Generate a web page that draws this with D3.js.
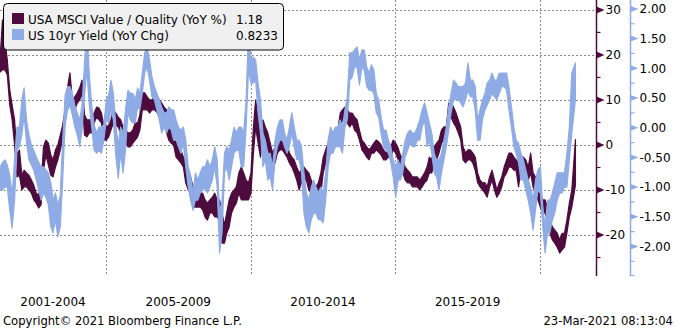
<!DOCTYPE html>
<html><head><meta charset="utf-8">
<script src="https://cdn.jsdelivr.net/npm/d3@7"></script>
<style>
body{margin:0;background:#fff}
svg{display:block}
text{font-family:"DejaVu Sans",Verdana,sans-serif;font-size:12px;fill:#000}
</style>
</head><body>
<svg id="chart" width="675" height="329"></svg>
<script>
// ---------------- data ----------------
const seriesNames = ["USA MSCI Value / Quality (YoY %)", "US 10yr Yield (YoY Chg)"];
const lastValues = ["1.18", "0.8233"];
const firstMonth = "2001-05-05";
const lastDay = "2021-03-23";

// USA MSCI Value / Quality (YoY %) – monthly high / low of the daily series
const purpleHi = [
18.9,27.8,23.3,18.9,12.2,8.9,5.6,-2.2,-1.1,-6.7,
-5.6,-6.2,-6.7,-7.8,-8.9,-10.7,-11.1,-8.9,-0.4,1.1,
0.4,-2.2,-3.3,-1.1,0,2.2,4.4,7.8,12.9,16,
10,10.7,11.6,12.7,14.4,6.7,5.6,5.6,5.6,7.1,
8.4,8.2,7.1,4.4,4,4.4,5.6,7.8,7.1,6.2,
5.6,4,3.3,2.7,2.7,3.3,4.9,4.9,6.7,11.6,
11.6,10.7,10,10,10.7,11.1,10,9.3,8.4,7.8,
4.9,4,3.3,1.1,-0.4,-1.1,-2.7,-4,-5.6,-7.1,
-9.3,-10.7,-10.7,-10.7,-10.7,-12.2,-12.9,-12.2,-11.6,-10.7,
-12.2,-12.2,-15.1,-17.8,-15.1,-12.2,-10.7,-10,-9.3,-6.2,
-4.9,-6.2,-7.8,-8.4,-6.2,4,10,6.2,2.7,5.6,
4,2.7,0.4,-1.8,-0.4,1.1,1.8,1.8,1.1,0.4,
-1.8,-2.7,-3.3,-4.9,-6.2,-5.6,-4.9,-5.6,-6.2,-7.8,
-9.3,-9.3,-8.4,-6.2,-2.7,-1.1,0.4,1.1,2.7,2.7,
3.3,7.1,7.8,8.4,7.8,7.1,7.1,6.2,5.6,3.3,
1.1,0.4,-0.4,-1.1,-0.4,0.4,1.1,0.7,0,-1.1,
-1.8,-1.1,-0.4,1.1,0.4,-0.7,-2.2,-3.3,-4.9,-5.6,
-6.2,-7.1,-7.1,-7.1,-7.8,-7.1,-6.2,-4.9,-2.7,-3.3,
-0.4,0.4,1.1,3.3,4,4,9.3,9.3,8.4,7.1,
5.6,4,-0.4,-1.8,-1.1,-1.1,-1.8,-2.7,-6.2,-7.8,
-8.4,-8.4,-9.3,-7.1,-5.6,-7.8,-10,-8.4,-7.1,-4.9,
-3.3,-1.8,-1.8,-2.7,-3.3,-4,-2.7,-2.7,-3.3,-4.9,
-1.8,-6.2,-7.1,-8.4,-10.7,-12.2,-12.2,-13.8,-16.7,-18.2,
-18.9,-19.6,-21.1,-19.6,-19.6,-16.7,-12.9,-10,1.2
];
const purpleLo = [
16.2,16.7,16.7,15.6,8.9,5.6,0,-7.1,-6.7,-10,
-9.3,-9.3,-10,-10.7,-12.2,-12.9,-14,-13.3,-5.6,-2.2,
-4.4,-6.7,-7.1,-4.9,-3.3,-1.1,1.1,4.9,10,12.9,
7.1,7.8,9.3,10,11.6,2.2,1.8,2.7,2.7,4.9,
6.2,5.6,4.9,1.1,1.1,1.8,3.3,4.9,4.4,4,
2.7,0.4,0.4,-0.4,-0.4,0.4,1.1,1.8,3.3,7.8,
7.8,7.8,7.1,7.8,7.8,7.3,6.2,6.2,5.6,2.7,
1.1,0.4,0,-2.7,-3.3,-4,-4.9,-8.4,-10,-10.7,
-13.8,-13.8,-13.8,-13.8,-14.4,-16,-16.7,-15.1,-15.1,-16,
-16,-16.7,-21.8,-21.8,-19.6,-18.2,-15.1,-13.8,-12.9,-10.7,
-12.2,-12.2,-12.2,-12.2,-10.7,-1.8,4,0.4,-2.7,1.1,
-0.4,-1.1,-3.3,-4.9,-4,-1.8,-1.1,-1.1,-1.8,-2.7,
-4,-4.9,-6.2,-7.8,-10,-8.4,-7.8,-7.8,-10,-10.7,
-11.6,-12.2,-11.6,-10.7,-6.2,-4,-2.7,-1.8,-0.4,-0.4,
0,4,5.6,6.2,4.9,4,4.9,3.3,2.7,1.1,
-1.1,-1.8,-2.7,-3.3,-1.8,-1.8,-1.1,-1.6,-2.2,-3.3,
-3.3,-2.7,-2.7,-1.1,-1.8,-3.3,-4.9,-6.2,-7.8,-8.4,
-8.4,-9.3,-9.3,-9.3,-10,-9.3,-8.4,-7.8,-6.2,-6.2,
-4,-3.3,-1.8,0.4,1.1,1.1,5.6,6.2,4.9,4,
2.7,1.1,-3.3,-4,-3.3,-3.3,-4,-5.6,-8.4,-9.3,
-10,-10.7,-11.6,-9.3,-7.8,-10,-11.6,-10.7,-9.3,-7.1,
-6.2,-4.9,-4.9,-5.6,-5.6,-9.3,-5.6,-5.6,-6.2,-7.8,
-6.2,-9.3,-10.7,-12.2,-13.8,-15.1,-15.1,-16.7,-19.6,-21.1,
-21.8,-22.7,-24,-23.3,-22.7,-19.6,-16,-13.8,-8.9
];

// US 10yr Yield (YoY Chg) – monthly high / low of the daily series
const blueHi = [
-0.66,-0.59,-0.54,-0.63,-0.80,-1.13,-0.54,0.01,0.01,0.47,
0.67,0.13,-0.12,-0.29,-0.38,-0.49,-0.58,-0.66,-0.66,-0.71,
-0.76,-0.93,-1.22,-1.10,-1.30,-1.13,-0.21,0.55,0.69,0.69,
0.58,0.38,0.25,0.13,0.38,1.06,1.70,0.89,0.38,0.05,
-0.09,0.01,0.01,0.05,0.47,0.55,0.80,0.58,0.05,-0.29,
0.01,-0.09,0.30,0.63,0.58,0.58,0.47,0.67,0.58,0.92,
1.26,1.36,1.14,0.85,0.69,0.58,0.47,0.35,0.25,0.25,
0.35,0.30,0.30,0.13,0.01,-0.04,0.01,-0.21,-0.66,-0.80,
-1.10,-0.76,-0.88,-0.76,-0.66,-0.66,-0.54,-0.66,-0.54,-0.32,
-0.54,-1.44,-1.22,-0.43,-0.32,-0.38,-0.21,0.01,-0.09,0.01,
0.01,-0.09,0.47,1.65,1.14,1.19,1.14,0.75,0.47,-0.09,
-0.21,-0.43,-0.43,-0.66,-0.21,0.01,0.13,0.13,-0.09,-0.21,
0.01,0.25,0.01,-0.21,-0.21,-0.32,-0.76,-1.10,-1.22,-1.00,
-0.88,-1.00,-1.10,-1.00,-1.10,-0.76,-0.21,0.01,-0.09,0.01,
0.01,0.13,0.01,0.30,0.52,1.26,1.26,1.31,1.36,1.14,
1.31,1.31,1.02,0.92,1.06,0.97,0.58,0.47,0.18,-0.04,
-0.04,-0.21,-0.32,-0.54,-0.66,-0.54,-0.66,-0.43,-0.21,-0.09,
-0.04,-0.09,-0.09,0.01,0.13,0.30,0.42,0.25,0.08,-0.09,
-0.43,-0.54,-0.54,-0.43,-0.21,0.01,0.35,0.58,0.80,0.75,
0.69,0.69,0.69,0.75,1.09,0.80,0.80,0.69,0.13,0.30,
0.47,0.58,0.75,0.80,0.92,0.80,0.80,0.92,0.92,0.92,
0.92,0.69,0.35,0.01,-0.21,-0.26,-0.43,-0.54,-0.71,-0.88,
-1.00,-1.22,-0.88,-0.71,-0.66,-1.33,-1.67,-1.22,-1.22,-1.10,
-0.93,-0.76,-0.76,-0.76,-0.76,-0.43,0.01,0.92,1.09
];
const blueLo = [
-1.05,-1.05,-1.00,-1.00,-1.39,-1.69,-1.22,-0.38,-0.32,-0.12,
0.21,-0.26,-0.54,-0.63,-0.71,-0.88,-1.05,-1.22,-1.10,-1.17,
-1.30,-1.67,-1.77,-1.55,-1.84,-1.67,-0.88,0.05,0.30,0.38,
0.21,0.01,-0.12,-0.32,-0.04,0.55,0.97,0.38,0.01,-0.38,
-0.43,-0.38,-0.43,-0.21,0.13,0.08,0.30,0.13,-0.46,-0.85,
-0.43,-0.76,-0.38,0.25,0.13,0.08,0.08,0.35,0.30,0.58,
0.92,1.02,0.80,0.52,0.47,0.30,0.13,-0.09,0.01,-0.09,
0.01,-0.04,-0.21,-0.21,-0.32,-0.43,-0.26,-0.66,-1.00,-1.22,
-1.39,-1.22,-1.22,-1.10,-1.05,-1.00,-1.10,-1.00,-0.88,-0.66,
-1.00,-2.11,-1.77,-0.76,-0.66,-0.88,-0.66,-0.43,-0.38,-0.38,
-0.66,-0.66,0.01,0.97,0.75,0.75,0.80,0.25,-0.09,-0.66,
-0.54,-0.88,-0.83,-1.05,-0.54,-0.32,-0.21,-0.21,-0.32,-0.43,
-0.32,-0.09,-0.32,-0.54,-0.54,-0.76,-1.44,-1.67,-1.77,-1.55,
-1.44,-1.44,-1.55,-1.55,-1.60,-1.22,-0.66,-0.43,-0.43,-0.32,
-0.32,-0.32,-0.43,0.01,0.13,0.80,0.85,1.02,1.02,0.72,
1.02,0.97,0.69,0.63,0.63,0.58,0.25,0.18,-0.09,-0.32,
-0.38,-0.43,-0.59,-0.83,-1.17,-0.88,-0.88,-0.76,-0.49,-0.38,
-0.26,-0.32,-0.32,-0.21,-0.21,0.01,0.13,-0.32,-0.21,-0.43,
-0.76,-0.83,-1.05,-0.76,-0.54,-0.32,-0.04,0.25,0.47,0.47,
0.47,0.42,0.35,0.47,0.63,0.52,0.52,0.30,-0.21,-0.21,
0.13,0.30,0.38,0.47,0.58,0.52,0.47,0.58,0.69,0.69,
0.63,0.30,0.01,-0.32,-0.43,-0.59,-0.88,-0.88,-1.05,-1.22,
-1.44,-1.72,-1.39,-1.05,-1.10,-1.67,-2.11,-1.77,-1.77,-1.55,
-1.44,-1.22,-1.10,-1.10,-1.00,-1.00,-0.54,-0.09,0.47
];

const periodLabels = ["2001-2004", "2005-2009", "2010-2014", "2015-2019"];
const periodBreaks = ["2005-01-01", "2010-01-01", "2015-01-01", "2020-01-01"];
const leftTicks = [30, 20, 10, 0, -10, -20];
const leftMinorTicks = [25, 15, 5, -5, -15, -25];
const rightTicks = [2, 1.5, 1, 0.5, 0, -0.5, -1, -1.5, -2];
const rightMinorTicks = [1.75, 1.25, 0.75, 0.25, -0.25, -0.75, -1.25, -1.75, -2.25, -2.5];
const copyrightText = "Copyright\u00A9 2021 Bloomberg Finance L.P.";
const stampText = "23-Mar-2021 08:13:04";

// ---------------- drawing ----------------
const purple = "#4d0b3e", blue = "#8eabe6";
const W = 597, H = 276;
const parse = d3.utcParse("%Y-%m-%d");
const svg = d3.select("#chart");

const x = d3.scaleUtc().domain([parse("2001-05-05"), parse("2021-12-20")]).range([0, W]);
const yL = d3.scaleLinear().domain([-29.1, 32.2]).range([H, 0]);
const yR = d3.scaleLinear().domain([-2.497, 2.15]).range([H, 0]);

const n = Math.min(purpleHi.length, purpleLo.length, blueHi.length, blueLo.length);
const start = parse(firstMonth);
const dates = d3.range(n).map(k => d3.utcMonth.offset(start, k));
dates[n - 1] = parse(lastDay);

const purpleData = dates.map((d, i) => ({d, hi: purpleHi[i], lo: purpleLo[i]}));
const blueData = dates.map((d, i) => ({d, hi: blueHi[i], lo: blueLo[i]}));

svg.append("defs").append("clipPath").attr("id", "plot")
  .append("rect").attr("x", 0).attr("y", 0).attr("width", W).attr("height", H);

// grid
const grid = svg.append("g").attr("stroke", "#8a8a8a").attr("stroke-width", 1).attr("stroke-dasharray", "2,2");
grid.selectAll("line.h").data(leftTicks).join("line")
  .attr("x1", 0).attr("x2", W)
  .attr("y1", d => Math.round(yL(d)) + 0.5).attr("y2", d => Math.round(yL(d)) + 0.5);
grid.selectAll("line.v").data(periodBreaks).join("line")
  .attr("x1", d => Math.round(x(parse(d))) + 0.5).attr("x2", d => Math.round(x(parse(d))) + 0.5)
  .attr("y1", 0).attr("y2", H);

// series (blue drawn over purple)
const plot = svg.append("g").attr("clip-path", "url(#plot)");
const blueArea = d3.area().x(p => x(p.d)).y0(p => yR(p.lo)).y1(p => yR(p.hi));
const purpleArea = d3.area().x(p => x(p.d)).y0(p => yL(p.lo)).y1(p => yL(p.hi));
plot.append("path").datum(purpleData).attr("d", purpleArea)
  .attr("fill", purple).attr("stroke", purple).attr("stroke-width", 1.2).attr("stroke-linejoin", "round");
plot.append("path").datum(blueData).attr("d", blueArea)
  .attr("fill", blue).attr("stroke", blue).attr("stroke-width", 1.2).attr("stroke-linejoin", "round");

// left (purple) axis on the right side
const axL = svg.append("g").attr("transform", `translate(${W - 0.5},0)`);
axL.append("line").attr("y1", 0).attr("y2", H).attr("stroke", purple).attr("stroke-width", 1.5);
axL.call(g => {
  const a = d3.axisRight(yL).tickValues(leftTicks).tickSize(0).tickPadding(9).tickFormat(d => String(d));
  g.append("g").call(a).call(s => s.select(".domain").remove())
    .selectAll("text").style("font-size", "12px").attr("fill", "#000");
});
axL.selectAll("path.tri").data(leftTicks).join("path").attr("class", "tri")
  .attr("d", d => `M0,${yL(d) - 3.5}L8,${yL(d)}L0,${yL(d) + 3.5}Z`).attr("fill", purple);
axL.selectAll("line.minor").data(leftMinorTicks).join("line").attr("class", "minor")
  .attr("x1", 0).attr("x2", 4).attr("y1", d => yL(d)).attr("y2", d => yL(d))
  .attr("stroke", purple).attr("stroke-width", 1.2);

// right (blue) axis
const axR = svg.append("g").attr("transform", `translate(630.5,0)`);
axR.append("line").attr("y1", 0).attr("y2", H).attr("stroke", blue).attr("stroke-width", 1.5);
axR.call(g => {
  const a = d3.axisRight(yR).tickValues(rightTicks).tickSize(0).tickPadding(9)
    .tickFormat(d => d3.format(".2f")(d).replace("\u2212", "-"));
  g.append("g").call(a).call(s => s.select(".domain").remove())
    .selectAll("text").style("font-size", "12px").attr("fill", "#000");
});
axR.selectAll("path.tri").data(rightTicks).join("path").attr("class", "tri")
  .attr("d", d => `M0,${yR(d) - 3}L8,${yR(d)}L0,${yR(d) + 3}Z`).attr("fill", blue);
axR.selectAll("line.minor").data(rightMinorTicks).join("line").attr("class", "minor")
  .attr("x1", 0).attr("x2", 4).attr("y1", d => Math.min(yR(d), H - 0.5)).attr("y2", d => Math.min(yR(d), H - 0.5))
  .attr("stroke", blue).attr("stroke-width", 1.2);

// period labels
const bounds = [x.domain()[0], ...periodBreaks.map(parse)];
svg.selectAll("text.period").data(periodLabels).join("text").attr("class", "period")
  .attr("x", (d, i) => (x(bounds[i]) + x(bounds[i + 1])) / 2)
  .attr("y", 306).attr("text-anchor", "middle").text(d => d);

svg.append("text").attr("x", 3).attr("y", 325).style("font-size", "11.6px").text(copyrightText);
svg.append("text").attr("x", 673).attr("y", 325).attr("text-anchor", "end").style("font-size", "11.6px").text(stampText);

// legend
const lg = svg.append("g");
lg.append("rect").attr("x", 3.5).attr("y", 3.5).attr("width", 280).attr("height", 46.5).attr("rx", 4)
  .attr("fill", "#f0f0f0").attr("stroke", "#000").attr("stroke-width", 1);
const colors = [purple, blue];
seriesNames.forEach((name, i) => {
  lg.append("rect").attr("x", 12).attr("y", 13 + i * 16).attr("width", 12).attr("height", 11).attr("fill", colors[i]);
  lg.append("text").attr("x", 28).attr("y", 24 + i * 16).text(name);
  lg.append("text").attr("x", 236).attr("y", 24 + i * 16).text(lastValues[i]);
});
</script>
</body></html>
